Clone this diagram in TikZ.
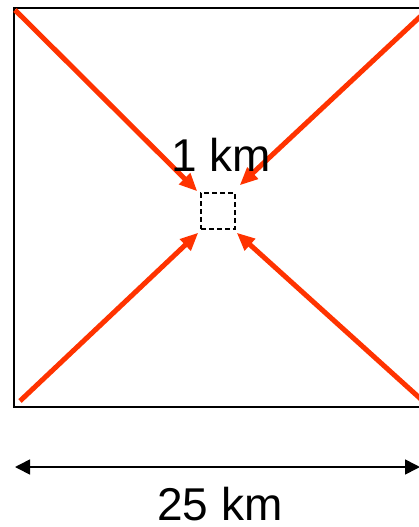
\documentclass[tikz,border=0pt]{standalone}
\usepackage{fontspec}
\setmainfont{Liberation Sans}
\usetikzlibrary{calc, arrows.meta}
\definecolor{flowred}{HTML}{FF3300}

\begin{document}
\begin{tikzpicture}[x=1pt, y=-1pt, font=\fontsize{46}{52}\selectfont,
    flow/.style={flowred, line width=5pt, -{Triangle[length=18pt, width=15pt]}},
    dim/.style={line width=1.6pt, {Triangle[length=15pt, width=15pt]}-{Triangle[length=15pt, width=15pt]}}]

    % 1. Fix the page size and cut off what runs past the right edge
    \useasboundingbox (0,0) rectangle (419,527);
    \clip (0,0) rectangle (419,527);

    % 2. The big region and the small cell in its middle
    \draw[line width=2pt] (14,8) rectangle (423,407);
    \node[draw, dash pattern=on 5pt off 3pt, line width=1.4pt, minimum width=34pt,
          minimum height=36pt, inner sep=0pt] (cell) at (218,211) {};

    % 3. Corners where the flows start
    \coordinate (NW) at (15,10);
    \coordinate (NE) at (423,14);
    \coordinate (SW) at (20,401);
    \coordinate (SE) at (423,401);

    % 4. Flows into the cell
    \draw[flow] (NW) -- ($(cell.north west) + (-3,-1)$);
    \draw[flow] (NE) -- ($(cell.north east) + (4,-7)$);
    \draw[flow] (SW) -- ($(cell.south west) + (-2,3)$);
    \draw[flow] (SE) -- ($(cell.south east) + (1,3)$);

    % 5. Labels and the width of the region
    \node[inner sep=0pt] (small) at (221,155) {1 km};
    \coordinate (L) at (15,467);
    \coordinate (R) at (420,467);
    \draw[dim] (L) -- (R);
    \node[inner sep=0pt] (big) at (220,504) {25 km};

\end{tikzpicture}
\end{document}
